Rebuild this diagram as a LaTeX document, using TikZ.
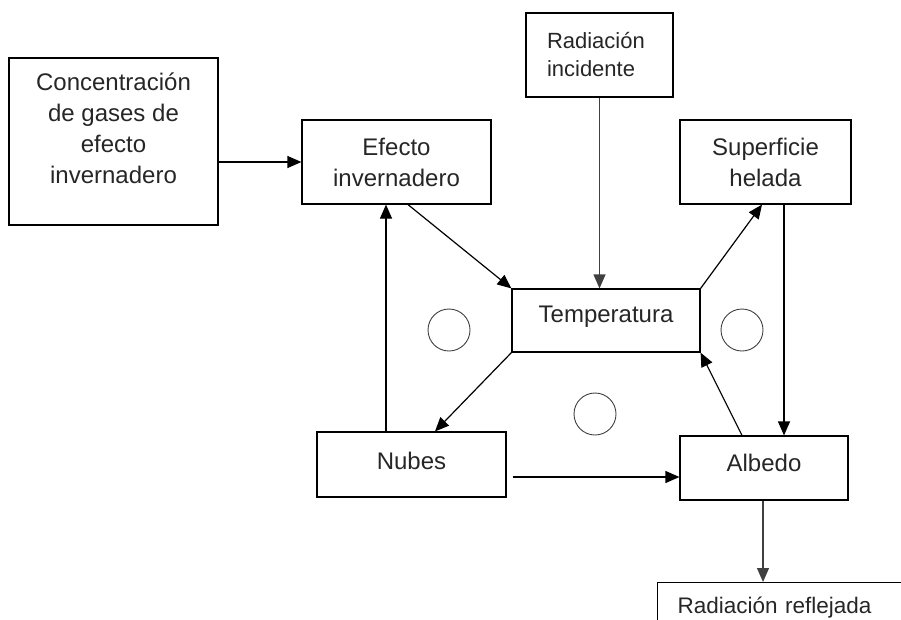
\documentclass[tikz,border=0pt]{standalone}
\usepackage{fontspec}
\setmainfont{Liberation Sans}
\usetikzlibrary{arrows.meta}
\newcommand{\liftup}[2]{\raisebox{#1}[\height][\depth]{#2}}

\begin{document}
\begin{tikzpicture}[x=1pt, y=-1pt,
  box/.style={draw, line width=1.2pt, inner sep=0pt, text=black!85, font=\fontsize{24}{31}\selectfont},
  arr/.style={line width=1.2pt, -{Triangle[length=14pt,width=12pt]}},
  loopmark/.style={draw=black!75, line width=0.9pt}]
\useasboundingbox (0,0) rectangle (901,619);
\clip (0,0) rectangle (901,619);

% Boxes
\node[box, minimum width=209pt, minimum height=167pt] (conc) at (113.5,141.5) {\liftup{11pt}{\begin{tabular}{@{}c@{}}Concentración\\de gases de\\efecto\\invernadero\end{tabular}}};
\node[box, align=center, minimum width=189pt, minimum height=84pt] (efecto) at (396.5,162) {Efecto\\invernadero};
\node[box, align=left, text width=105pt, minimum width=147pt, minimum height=84pt, font=\fontsize{22}{28}\selectfont] (rad) at (599.5,55) {Radiación\\incidente};
\node[box, align=center, minimum width=171pt, minimum height=84pt] (sup) at (765.5,162) {Superficie\\helada};
\node[box, minimum width=188pt, minimum height=63pt] (temp) at (606,320.5) {\liftup{4pt}{Temperatura}};
\node[box, minimum width=189pt, minimum height=65pt] (nubes) at (411.5,464.5) {\liftup{4pt}{Nubes}};
\node[box, minimum width=168pt, minimum height=64pt] (albedo) at (764,468) {\liftup{5pt}{Albedo}};
\node[box, anchor=north west, align=left, text width=230pt, inner xsep=20pt, inner ysep=14pt, font=\fontsize{22.5}{28}\selectfont] (refl) at (657,582) {Radiación reflejada};

% Loop marks
\draw[loopmark] (449,330) circle[radius=21pt];
\draw[loopmark] (742,330) circle[radius=21pt];
\draw[loopmark] (595,414) circle[radius=21pt];

% Arrows
\draw[arr] (conc.east |- efecto.west) -- (efecto.west);
\draw[arr, draw=black!75] (rad.south) -- (rad.south |- temp.north);
\draw[arr] ([xshift=11.5pt]efecto.south) -- (temp.north west);
\draw[arr] ([xshift=-25.5pt]nubes.north) -- ([xshift=-25.5pt]nubes.north |- efecto.south);
\draw[arr] (temp.south west) -- ([xshift=23.5pt]nubes.north);
\draw[arr] (temp.north east) -- ([xshift=-3.5pt]sup.south);
\draw[arr] ([xshift=-22pt]albedo.north) -- (temp.south east);
\draw[arr] ([xshift=18.5pt]sup.south) -- ([xshift=18.5pt]sup.south |- albedo.north);
\draw[arr] ([shift={(6,12.5)}]nubes.east) -- ([shift={(0,9)}]albedo.west);
\draw[arr, draw=black!75] ([xshift=-1pt]albedo.south) -- ([xshift=-1pt]albedo.south |- refl.north);
\end{tikzpicture}
\end{document}
